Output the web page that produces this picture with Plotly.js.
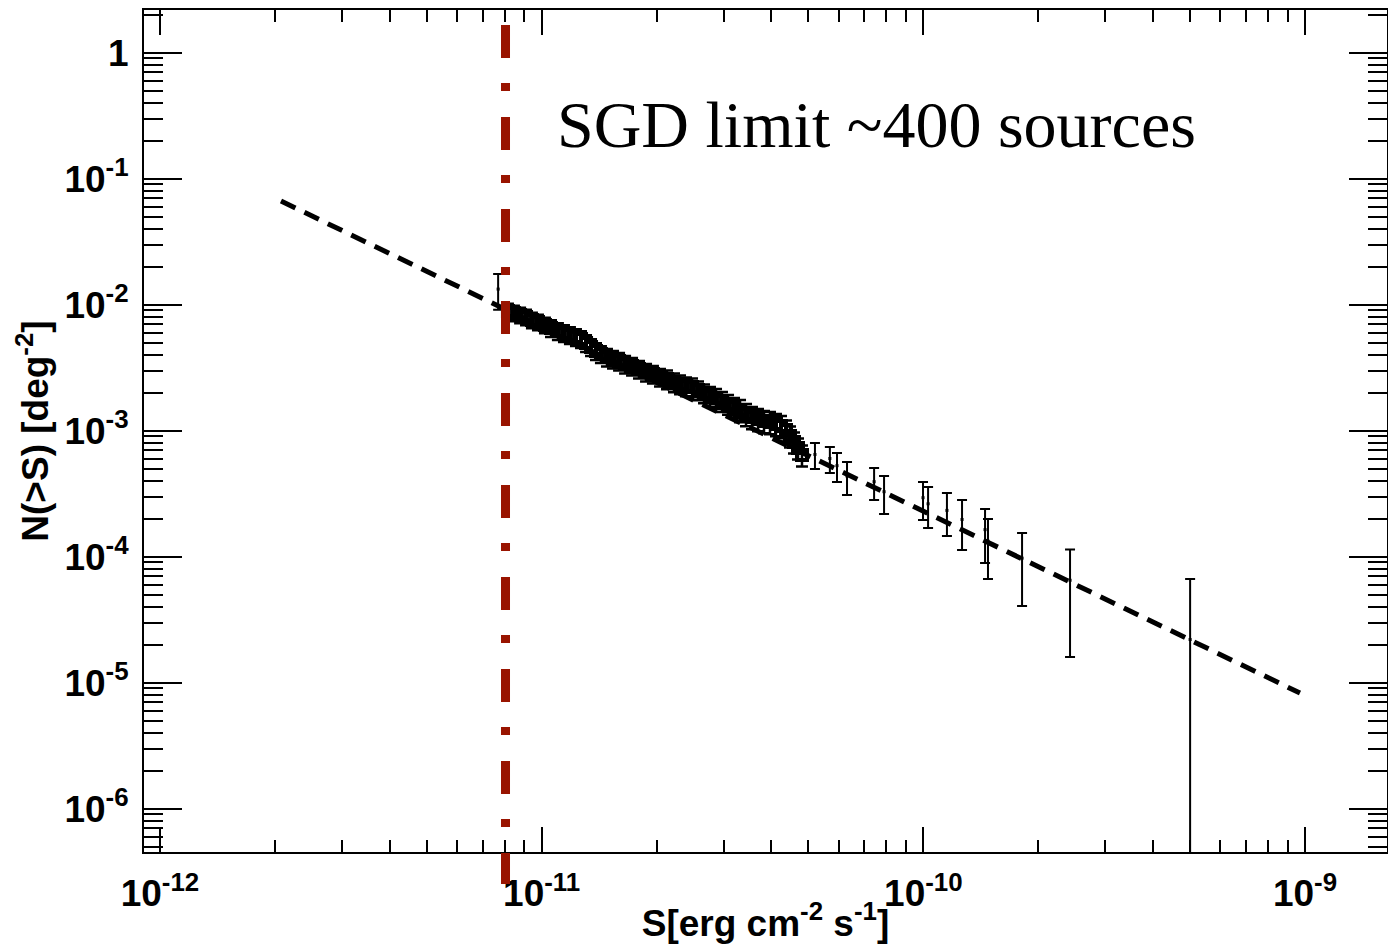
<!DOCTYPE html>
<html><head><meta charset="utf-8">
<script src="https://cdn.plot.ly/plotly-3.0.1.min.js"></script>
<style>html,body{margin:0;padding:0;background:#fff}#chart{width:1388px;height:944px}</style>
</head><body><div id="chart"></div>
<script>
// Dense part of the logN-logS curve (flux, N(>S), fractional error)
const bandX = [8.16e-12, 8.46e-12, 8.78e-12, 9.10e-12, 9.43e-12, 9.78e-12, 1.020e-11,
  1.058e-11, 1.103e-11, 1.144e-11, 1.186e-11, 1.230e-11, 1.268e-11, 1.307e-11, 1.347e-11, 1.388e-11, 1.430e-11,
  1.483e-11, 1.538e-11, 1.595e-11, 1.654e-11, 1.725e-11, 1.799e-11, 1.877e-11, 1.957e-11, 2.042e-11,
  2.130e-11, 2.222e-11, 2.304e-11, 2.389e-11, 2.477e-11, 2.568e-11, 2.663e-11,
  2.761e-11, 2.863e-11, 2.968e-11, 3.078e-11, 3.191e-11,
  3.309e-11, 3.431e-11, 3.557e-11, 3.688e-11, 3.824e-11, 3.965e-11, 4.111e-11, 4.237e-11,
  4.367e-11, 4.474e-11, 4.583e-11, 4.695e-11, 4.809e-11];
const bandY = [8.913e-3, 8.593e-3, 8.285e-3, 7.988e-3, 7.562e-3, 7.290e-3, 6.901e-3,
  6.533e-3, 6.184e-3, 5.962e-3, 5.748e-3, 5.542e-3, 5.343e-3, 4.966e-3, 4.616e-3, 4.291e-3, 4.062e-3,
  3.845e-3, 3.707e-3, 3.573e-3, 3.383e-3, 3.262e-3, 3.088e-3, 2.923e-3, 2.818e-3, 2.668e-3,
  2.572e-3, 2.435e-3, 2.347e-3, 2.263e-3, 2.222e-3, 2.104e-3, 1.991e-3,
  1.885e-3, 1.817e-3, 1.720e-3, 1.629e-3, 1.542e-3,
  1.460e-3, 1.357e-3, 1.284e-3, 1.238e-3, 1.194e-3, 1.172e-3, 1.130e-3, 1.090e-3,
  1.013e-3, 9.077e-4, 8.134e-4, 7.289e-4, 6.413e-4];
const bandErrFrac = [0.14, 0.14, 0.14, 0.14, 0.14, 0.14, 0.14,
  0.15, 0.15, 0.15, 0.15, 0.15, 0.15, 0.15, 0.15, 0.15, 0.15,
  0.16, 0.16, 0.16, 0.16, 0.16, 0.16, 0.16, 0.16, 0.16,
  0.17, 0.17, 0.17, 0.17, 0.17, 0.17, 0.17,
  0.18, 0.18, 0.18, 0.18, 0.18,
  0.20, 0.20, 0.20, 0.20, 0.20, 0.20, 0.20, 0.20,
  0.19, 0.19, 0.19, 0.19, 0.19];

// Sparse points with explicit error-bar bounds
const ptX    = [7.69e-12, 5.20e-11, 5.69e-11, 5.94e-11, 6.31e-11, 7.43e-11, 7.89e-11, 9.98e-11, 1.029e-10,
  1.153e-10, 1.263e-10, 1.451e-10, 1.477e-10, 1.814e-10, 2.423e-10, 5.00e-10];
const ptY    = [1.33e-2, 6.48e-4, 6.02e-4, 5.28e-4, 4.37e-4, 3.94e-4, 3.28e-4, 2.94e-4, 2.63e-4,
  2.33e-4, 1.975e-4, 1.64e-4, 1.33e-4, 9.74e-5, 6.50e-5, 2.2e-5];
const ptHigh = [1.75e-2, 7.99e-4, 7.42e-4, 6.65e-4, 5.64e-4, 5.06e-4, 4.37e-4, 3.92e-4, 3.57e-4,
  3.20e-4, 2.82e-4, 2.39e-4, 1.99e-4, 1.542e-4, 1.141e-4, 6.65e-5];
const ptLow  = [9.1e-3, 4.97e-4, 4.62e-4, 3.92e-4, 3.09e-4, 2.82e-4, 2.18e-4, 1.955e-4, 1.69e-4,
  1.46e-4, 1.13e-4, 8.91e-5, 6.65e-5, 4.06e-5, 1.596e-5, 0];

// Power-law model
const fitX = [2.075e-12, 9.70e-10];
const fitY = [0.0665, 8.28e-6];

const sgdLimitX = 8.04e-12;
const sgdLabel = 'SGD limit ~400 sources';

const xTickVals = [1e-12, 1e-11, 1e-10, 1e-9];
const xTickText = ['10<sup>-12</sup>', '10<sup>-11</sup>', '10<sup>-10</sup>', '10<sup>-9</sup>'];
const yTickVals = [1, 1e-1, 1e-2, 1e-3, 1e-4, 1e-5, 1e-6];
const yTickText = ['1', '10<sup>-1</sup>', '10<sup>-2</sup>', '10<sup>-3</sup>', '10<sup>-4</sup>', '10<sup>-5</sup>', '10<sup>-6</sup>'];
const xTitle = 'S[erg cm<sup>-2</sup> s<sup>-1</sup>]';
const yTitle = 'N(>S) [deg<sup>-2</sup>]';

function minorVals(lo, hi) {
  const out = [];
  for (let e = lo; e <= hi; e++) for (let m = 2; m <= 9; m++) out.push(m * Math.pow(10, e));
  return out;
}

const tickFont = {family: 'Liberation Sans, Arial, sans-serif', size: 37, color: '#000', weight: 'bold'};
const titleFont = {family: 'Liberation Sans, Arial, sans-serif', size: 37, color: '#000', weight: 'bold'};

const traces = [
  {x: fitX, y: fitY, mode: 'lines', line: {color: '#000', width: 5, dash: '16px,10px'}, hoverinfo: 'skip'},
  {x: bandX, y: bandY, mode: 'markers',
   marker: {symbol: 'square-open', size: 10, color: '#000', line: {color: '#000', width: 4}},
   error_y: {type: 'data', symmetric: true, array: bandY.map((v, i) => v * bandErrFrac[i]),
             color: '#000', thickness: 2.5, width: 6}},
  {x: ptX, y: ptY, mode: 'markers', marker: {symbol: 'square', size: 3, color: '#000'},
   error_y: {type: 'data', symmetric: false,
             array: ptY.map((v, i) => ptHigh[i] - v),
             arrayminus: ptY.map((v, i) => v - ptLow[i]),
             color: '#000', thickness: 2, width: 5}}
];

const axisCommon = {
  type: 'log', showgrid: false, zeroline: false, showline: true, linecolor: '#000', linewidth: 2,
  mirror: 'ticks', ticks: 'inside', tickcolor: '#000', tickwidth: 2, tickmode: 'array',
  tickfont: tickFont
};

const layout = {
  width: 1388, height: 944,
  margin: {l: 144, r: 1, t: 10, b: 92},
  paper_bgcolor: '#fff', plot_bgcolor: '#fff',
  showlegend: false,
  xaxis: Object.assign({}, axisCommon, {
    range: [-12.0419, -8.7852], tickvals: xTickVals, ticktext: xTickText, ticklen: 25,
    ticklabelstandoff: 8,
    minor: {tickvals: minorVals(-12, -9), ticks: 'inside', ticklen: 12, tickwidth: 2, tickcolor: '#000', showgrid: false},
    title: {text: xTitle, font: titleFont, standoff: 2}
  }),
  yaxis: Object.assign({}, axisCommon, {
    range: [-6.3437, 0.3389], tickvals: yTickVals, ticktext: yTickText, ticklen: 38,
    ticklabelstandoff: 6,
    minor: {tickvals: minorVals(-7, 0), ticks: 'inside', ticklen: 19, tickwidth: 2, tickcolor: '#000', showgrid: false},
    title: {text: yTitle, font: titleFont, standoff: 4}
  }),
  shapes: [{
    type: 'line', xref: 'x', yref: 'paper', x0: sgdLimitX, x1: sgdLimitX, y0: 1 - 15 / 842, y1: -32 / 842,
    line: {color: '#991400', width: 9, dash: '33px,25px,8px,26px'}
  }],
  annotations: [{
    xref: 'paper', yref: 'paper', x: (555 - 144) / 1243, y: 1 - (124.5 - 10) / 842,
    xanchor: 'left', yanchor: 'middle', showarrow: false, text: sgdLabel,
    font: {family: 'Liberation Serif, Times New Roman, serif', size: 66, color: '#000'}
  }]
};

Plotly.newPlot('chart', traces, layout, {displayModeBar: false, staticPlot: true});
</script></body></html>
